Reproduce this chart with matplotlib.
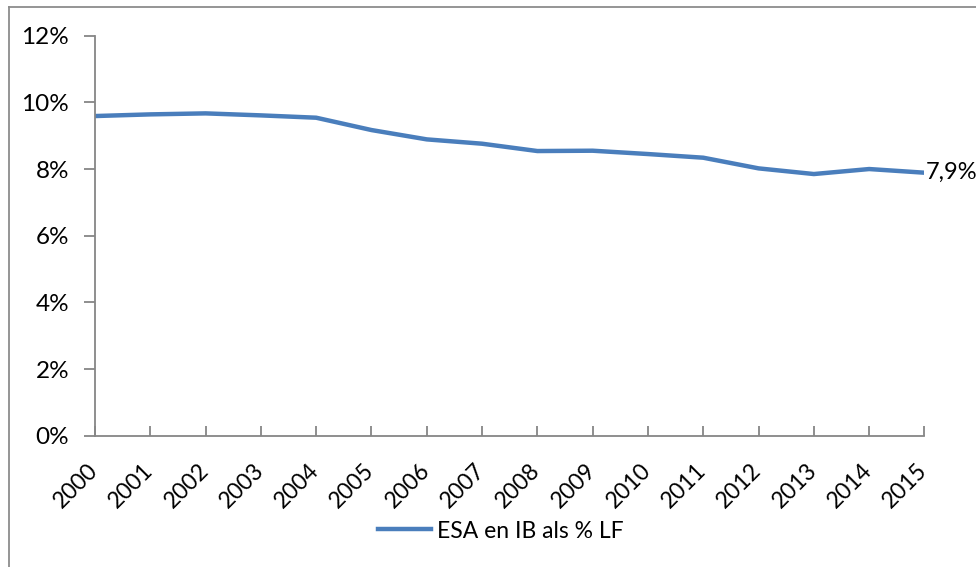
import matplotlib
matplotlib.use('Agg')
import matplotlib.pyplot as plt
from matplotlib.lines import Line2D
from matplotlib.ticker import PercentFormatter
from matplotlib.transforms import ScaledTranslation

years = list(range(2000, 2016))
esa_share = [9.59, 9.64, 9.67, 9.61, 9.54, 9.17, 8.89, 8.76, 8.54, 8.55,
             8.45, 8.34, 8.02, 7.85, 8.00, 7.89]
series_label = 'ESA en IB als % LF'
end_label = '7,9%'

plt.rcParams['font.family'] = ['Lato', 'DejaVu Sans']

fig = plt.figure(figsize=(9.76, 5.67), dpi=100)
ax = fig.add_axes([0.0973, 0.2316, 0.8499, 0.7054])

line_color = '#4A7EBC'
ax.plot(years, esa_share, color=line_color, lw=3.2, solid_capstyle='butt',
        solid_joinstyle='round', label=series_label)
ax.text(years[-1] + 0.02, esa_share[-1], end_label, fontsize=17,
        ha='left', va='center')

ax.set_xlim(years[0], years[-1])
ax.set_ylim(0, 12)
ax.set_yticks(range(0, 13, 2))
ax.yaxis.set_major_formatter(PercentFormatter(decimals=0))
ax.set_xticks(years)
ax.set_xticklabels([str(y) for y in years], rotation=45, ha='right',
                   va='baseline', rotation_mode='anchor')

for side in ['top', 'right']:
    ax.spines[side].set_visible(False)
for side in ['left', 'bottom']:
    ax.spines[side].set_color('#868686')
    ax.spines[side].set_linewidth(1.3)

ax.tick_params(axis='y', direction='out', length=8, width=1.3,
               color='#868686', labelsize=17.5, pad=10.5)
ax.tick_params(axis='x', direction='in', length=7, width=1.3,
               color='#868686', labelsize=16.5, pad=26)

# nudge rotated year labels so their ends sit under the ticks
shift = ScaledTranslation(3 / 72, 0, fig.dpi_scale_trans)
for lbl in ax.get_xticklabels():
    lbl.set_transform(lbl.get_transform() + shift)

# legend below the axis
handle = Line2D([], [], color=line_color, lw=3.2)
fig.legend([handle], [series_label], loc='center',
           bbox_to_anchor=(0.513, 1 - 531 / 567), frameon=False,
           fontsize=16.5, handlelength=2.3, handletextpad=0.25)

# chart frame (left and top edges visible)
fig.add_artist(Line2D([9 / 976, 9 / 976], [0, 1 - 7 / 567],
                      transform=fig.transFigure, color='#8c8c8c', lw=1.3))
fig.add_artist(Line2D([9 / 976, 1], [1 - 7 / 567, 1 - 7 / 567],
                      transform=fig.transFigure, color='#8c8c8c', lw=1.3))

fig.savefig('out.png', dpi=100)
plt.close(fig)
